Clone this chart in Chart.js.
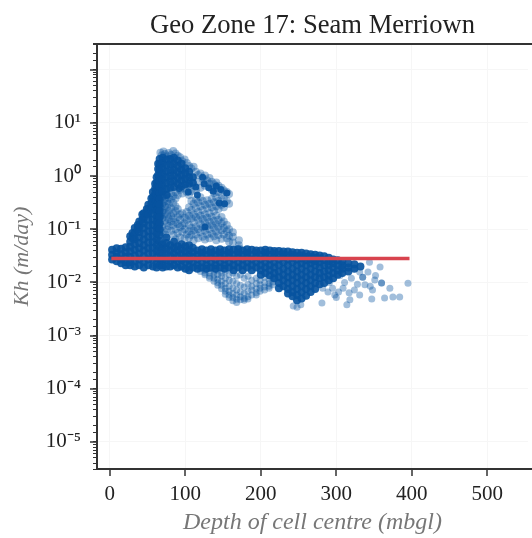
<!DOCTYPE html>
<html>
<head>
<meta charset="utf-8">
<style>
    html, body { margin: 0; padding: 0; background: #fff; overflow: hidden; }
    canvas { display: block; }
</style>
<script src="https://cdn.jsdelivr.net/npm/chart.js@4"></script>
</head>
<body>
<canvas id="chart" width="532" height="538"></canvas>
<script>
const yLabels = { '10': '10¹', '1': '10⁰', '0.1': '10⁻¹', '0.01': '10⁻²', '0.001': '10⁻³', '0.0001': '10⁻⁴', '0.00001': '10⁻⁵' };
const yMajors = [100, 10, 1, 0.1, 0.01, 0.001, 0.0001, 0.00001];
const xTicks = [0, 100, 200, 300, 400, 500];

// red line: the geometric mean of the zone
const meanDepth = [2, 397];
const meanKh = [0.028, 0.028];

// solid part of the cloud, by depth column
const coreDepth = [3, 9, 15, 21, 27, 30, 33, 37, 39, 43, 45, 49, 51, 55, 57, 60, 62, 64, 66, 70, 75, 80, 85, 90, 95, 100, 105, 110];
const coreKh = [
    [.041, .033, .027],
    [.044, .036, .03, .025],
    [.043, .034, .027, .023],
    [.046, .037, .03, .024, .021],
    [.074, .058, .047, .038, .03, .024, .021],
    [.085, .068],
    [.105, .083, .065, .052, .041, .032, .025, .02],
    [.12, .1],
    [.14, .11, .088, .07, .055, .044, .035, .027, .021],
    [.19, .15],
    [.2, .165, .13, .105, .082, .064, .05, .04, .031, .024, .019],
    [.24, .2],
    [.29, .24, .19, .15, .118, .092, .072, .056, .044, .035, .027, .021],
    [.38, .3, .23],
    [.5, .4, .32, .25, .195, .15, .12, .094, .073, .057, .045, .035, .027, .02],
    [.72, .58, .46, .36],
    [.95, .75, .58, .45, .35, .28, .22, .17, .135, .105, .082, .064, .05, .039, .03, .023, .019],
    [1.7, 1.35, 1.05, .82, .64, .5, .39, .3, .235, .18, .14, .11],
    [2.1, 1.65, 1.3, 1.0, .8, .62, .48, .37, .29, .22, .17, .13, .1, .078, .06, .046, .036, .027, .021],
    [2.2, 1.75, 1.38, 1.08, .85, .66, .51, .052, .043, .034, .027, .021, .019],
    [2.05, 1.6, 1.22, .95, .74, .57, .44, .07, .055, .043, .034, .026, .02],
    [2.1, 1.65, 1.28, 1.0, .78, .6, .05, .04, .032, .025, .02],
    [2.2, 1.7, 1.3, 1.02, .8, .62, .058, .045, .035, .027, .021],
    [1.95, 1.55, 1.2, .93, .72, .048, .04, .031, .025, .019],
    [1.7, 1.32, 1.05, .82, .64, .052, .042, .033, .026, .02],
    [1.4, 1.12, .88, .7, .048, .038, .03, .024, .018],
    [1.2, .95, .72, .05, .04, .032, .026, .02, .017],
    [.95, .75, .045, .037, .03, .024, .019]
];

// long flat band below the peak
const bandDepth = [116, 122, 128, 134, 140, 146, 152, 158, 164, 170, 176, 182, 188, 194, 200, 206, 212, 218, 224, 230, 236, 242, 248, 254, 260, 266, 272, 278, 284, 290, 296, 302, 308, 316, 324, 332];
const bandKh = [
    [.04, .033, .027, .021, .018],
    [.042, .036, .03, .024, .019],
    [.04, .033, .027, .021, .018],
    [.042, .036, .03, .024, .019],
    [.04, .033, .027, .021, .018],
    [.042, .036, .03, .024, .019],
    [.04, .033, .027, .021, .018],
    [.042, .036, .03, .024, .019],
    [.041, .033, .027, .021, .017],
    [.042, .036, .03, .024, .019],
    [.04, .033, .027, .021, .017],
    [.042, .036, .03, .024, .019],
    [.041, .033, .027, .021, .017],
    [.04, .036, .03, .024, .019],
    [.04, .033, .027, .021, .017, .014],
    [.041, .036, .03, .024, .019, .015],
    [.04, .033, .027, .021, .017, .0135],
    [.039, .035, .03, .024, .019, .015, .012],
    [.039, .033, .027, .021, .016, .0125, .0097, .0078],
    [.038, .034, .03, .024, .018, .014, .011, .0085],
    [.038, .032, .027, .021, .016, .0125, .0097, .0075, .0062],
    [.037, .033, .029, .024, .018, .014, .011, .0085, .0066, .0055],
    [.036, .031, .027, .021, .016, .0125, .0097, .0075, .0058, .0046],
    [.036, .032, .028, .023, .018, .014, .011, .0085, .0065, .005],
    [.035, .03, .026, .021, .016, .0125, .0097, .0075, .0056],
    [.034, .03, .027, .023, .018, .014, .011, .0085, .0066],
    [.033, .029, .025, .021, .016, .0125, .0097, .0075],
    [.032, .028, .024, .019, .015, .012, .0092],
    [.031, .026, .021, .016, .0125, .0097],
    [.029, .025, .021, .017, .0135, .011],
    [.027, .023, .019, .015, .012],
    [.026, .021, .017, .014],
    [.025, .021, .018, .015],
    [.023, .019, .016],
    [.022, .018],
    [.02]
];

// darker single dots sitting in the open part of the peak
const darkDepth = [123, 125, 131, 141, 147, 155, 152, 145, 126, 114, 116, 137, 104, 92];
const darkKh = [.95, .72, .6, .65, .56, .48, .3, .31, .11, .62, .44, .52, .5, .58];

// open mottled part of the peak, by depth column, with the pale gaps left open
const peakDepth = [67, 69, 71, 73, 76, 78, 81, 84, 87, 90, 93, 96, 99, 102, 105, 108, 111, 114, 117, 120, 123, 126, 129, 132, 135, 138, 141, 144, 148, 151, 155, 158, 163, 171];
const peakKh = [
    [2.75, .34, .25, .18, .125, .088],
    [2.45, .4, .29, .21, .16, .11],
    [2.9, .43, .32, .23, .17, .094],
    [2.6, .37, .27, .2, .145, .08],
    [2.35, .46, .34, .26, .19, .13, .1],
    [2.7, .39, .3, .22, .155, .115],
    [2.5, .48, .36, .25, .18, .14, .094],
    [2.95, .42, .31, .2, .16, .12, .078],
    [2.65, .5, .38, .27, .22, .135, .1, .064],
    [2.4, .44, .24, .17, .125, .085],
    [2.25, .55, .19, .15, .11, .07],
    [1.9, .47, .2, .118, .09],
    [2.05, .58, .165, .13, .1, .066],
    [1.75, .5, .21, .15, .08],
    [1.55, .62, .44, .26, .18, .12, .092, .07],
    [1.38, .52, .34, .23, .16, .105, .078],
    [1.5, .68, .3, .19, .135, .095, .062],
    [1.2, .54, .36, .25, .17, .11, .08],
    [1.05, .78, .32, .21, .15, .1, .068],
    [1.12, .6, .4, .27, .18, .125, .088],
    [.88, .34, .23, .155, .11, .072],
    [1.02, .66, .29, .19, .135, .094, .064],
    [.82, .35, .25, .165, .115, .08],
    [.92, .72, .3, .2, .14, .1, .068],
    [.78, .56, .37, .26, .17, .12, .082],
    [.7, .48, .32, .22, .145, .105, .074],
    [.76, .6, .4, .27, .18, .125, .09, .062],
    [.66, .5, .34, .24, .15, .11, .078],
    [.6, .43, .29, .17, .13, .096, .066],
    [.54, .38, .26, .14, .105, .08],
    [.5, .34, .12, .092, .068],
    [.46, .3, .1, .075, .058],
    [.088, .072, .056],
    [.062, .05, .044]
];

// lower lobe around 160 m, by depth column
const lobeDepth = [120, 126, 132, 138, 143, 148, 153, 158, 163, 168, 173, 178, 183, 188, 194, 199, 205, 211, 216];
const lobeKh = [
    [.018, .016],
    [.017, .015, .014],
    [.018, .015, .013, .012],
    [.016, .014, .012, .0105],
    [.017, .014, .0115, .0098, .0088],
    [.015, .013, .0105, .0088, .0076],
    [.016, .012, .0095, .0078, .0068, .006],
    [.014, .011, .0085, .0068, .0058, .0052],
    [.015, .0105, .0078, .0062, .0052, .0045],
    [.013, .0095, .0072, .0058, .0048, .0042],
    [.014, .0088, .0066, .0054, .0047],
    [.012, .0082, .0062, .005, .0046],
    [.013, .0092, .0068, .0054, .0049],
    [.011, .0085, .0072, .0058],
    [.012, .0095, .0076, .0064, .0058],
    [.011, .009, .0078, .0068],
    [.0125, .0098, .0082, .0072],
    [.0115, .0095, .0085, .0078],
    [.012, .0102, .009]
];

// loose dots at the deep end
const tailDepth = [395, 384, 375, 364, 347, 371, 360, 360, 348, 335, 335, 331, 314, 318, 309, 295, 298, 282, 281, 358, 344, 324, 331, 342, 351, 320, 311, 305, 291, 289, 338, 324, 248, 253, 243, 303, 317, 328, 345, 300, 352];
const tailKh = [.0096, .0053, .0053, .0051, .0049, .0078, .0097, .0097, .0072, .0125, .0125, .0058, .0038, .0047, .0078, .0078, .0058, .0078, .0041, .0194, .024, .0187, .0157, .0157, .0111, .012, .01, .0135, .01, .0066, .009, .0072, .0034, .0038, .0036, .0066, .0064, .0092, .0085, .0052, .0135];

function columns(depths, khs) {
    const points = [];
    depths.forEach(function(depth, i) {
        khs[i].forEach(function(kh) {
            points.push({ x: depth, y: kh });
        });
    });
    return points;
}

function pairs(depths, khs) {
    return depths.map((depth, i) => ({ x: depth, y: khs[i] }));
}

const solid = 'rgba(8, 84, 160, 0.92)';
const loose = 'rgba(8, 84, 160, 0.38)';

function cloud(data, colour, radius, order) {
    return { data: data, backgroundColor: colour, borderWidth: 0, pointRadius: radius, order: order };
}

// spines run off the right edge of the picture, and the decade ticks are longer
const frame = {
    id: 'frame',
    afterDraw(chart) {
        const ctx = chart.ctx;
        const area = chart.chartArea;
        ctx.save();
        ctx.strokeStyle = '#333';
        ctx.lineWidth = 2;
        ctx.beginPath();
        ctx.moveTo(area.left - 1, area.top);
        ctx.lineTo(chart.width, area.top);
        ctx.moveTo(area.left - 1, area.bottom);
        ctx.lineTo(chart.width, area.bottom);
        ctx.stroke();
        ctx.lineWidth = 1.5;
        ctx.beginPath();
        yMajors.forEach(function(value) {
            const py = Math.round(chart.scales.y.getPixelForValue(value));
            ctx.moveTo(area.left - 7, py);
            ctx.lineTo(area.left, py);
        });
        xTicks.forEach(function(value) {
            const px = Math.round(chart.scales.x.getPixelForValue(value));
            ctx.moveTo(px, area.bottom);
            ctx.lineTo(px, area.bottom + 7);
        });
        ctx.stroke();
        ctx.restore();
    }
};

const serif = '"Liberation Serif", serif';

new Chart(document.getElementById('chart').getContext('2d'), {
    type: 'scatter',
    data: {
        datasets: [
            {
                data: pairs(meanDepth, meanKh),
                showLine: true,
                borderColor: '#d8434e',
                borderWidth: 3.5,
                pointRadius: 0,
                order: 0
            },
            cloud(columns(coreDepth, coreKh), solid, 4, 1),
            cloud(columns(bandDepth, bandKh), solid, 4, 1),
            cloud(pairs(darkDepth, darkKh), solid, 3.5, 1),
            cloud(columns(peakDepth, peakKh), loose, 4, 2),
            cloud(columns(lobeDepth, lobeKh), loose, 3.5, 2),
            cloud(pairs(tailDepth, tailKh), loose, 3.5, 2)
        ]
    },
    options: {
        responsive: false,
        animation: false,
        devicePixelRatio: 1,
        layout: { padding: 0 },
        plugins: {
            legend: { display: false },
            tooltip: { enabled: false },
            title: {
                display: true,
                text: 'Geo Zone 17: Seam Merriown',
                fullSize: false,
                color: '#222',
                font: { family: serif, size: 26.6, weight: 'normal' },
                padding: { top: 10, bottom: 2 }
            }
        },
        scales: {
            x: {
                type: 'linear',
                min: -17,
                max: 554,
                afterFit(scale) { scale.height = 69; },
                border: { color: '#333', width: 2 },
                grid: { color: '#f6f6f6', drawTicks: false },
                ticks: {
                    stepSize: 100,
                    includeBounds: false,
                    color: '#222',
                    padding: 13,
                    maxRotation: 0,
                    font: { family: serif, size: 21 },
                    callback: value => xTicks.includes(value) ? String(value) : ''
                },
                title: {
                    display: true,
                    text: 'Depth of cell centre (mbgl)',
                    color: '#777',
                    font: { family: serif, size: 24, style: 'italic' },
                    padding: { top: 0, bottom: 1 }
                }
            },
            y: {
                type: 'logarithmic',
                min: 0.0000031,
                max: 305,
                afterFit(scale) { scale.width = 97; },
                border: { color: '#333', width: 2 },
                grid: {
                    color: ctx => yMajors.includes(ctx.tick && ctx.tick.value) ? '#f6f6f6' : 'rgba(0,0,0,0)',
                    tickColor: '#333',
                    tickLength: 4,
                    tickWidth: 1
                },
                ticks: {
                    autoSkip: false,
                    color: '#222',
                    padding: 12,
                    font: { family: serif, size: 21 },
                    callback: value => yLabels[String(Number(value.toPrecision(3)))] || ''
                },
                title: {
                    display: true,
                    text: 'Kh (m/day)',
                    color: '#777',
                    font: { family: serif, size: 22, style: 'italic' },
                    padding: { top: 9, bottom: 0 }
                }
            }
        }
    },
    plugins: [frame]
});
</script>
</body>
</html>
